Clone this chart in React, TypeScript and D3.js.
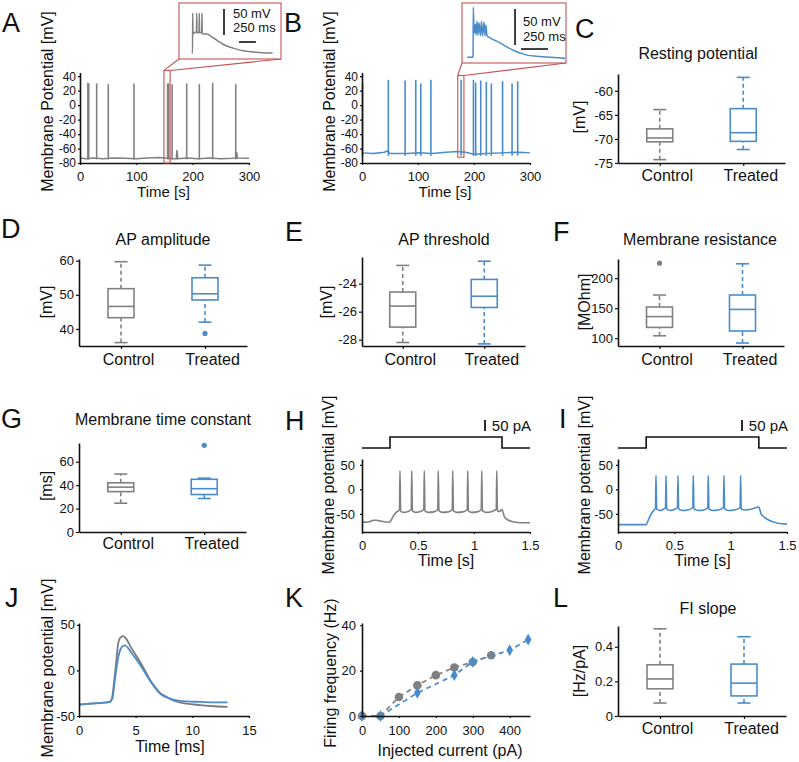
import { useEffect, useRef } from "react";
import * as d3 from "d3";

type Pt = [number, number];
type Sel = d3.Selection<SVGGElement, unknown, null, undefined>;

const FONT = "'Liberation Sans', Arial, Helvetica, sans-serif";
const INK = "#111111";
const GRAY = "#808080";
const BLUE = "#4a8ccb";
const RED = "#c45252";

// ---------- A / B : long recordings (time s, Vm mV)
const baselineA: Pt[] = [
  [0, -73], [10, -74], [25, -73], [40, -74], [60, -73], [80, -73.5], [100, -74], [120, -73],
  [140, -72.5], [150, -73], [165, -74], [171, -74], [172, -62], [173.5, -74], [190, -73],
  [210, -74], [230, -73], [250, -74], [270, -73.5], [277, -73], [278, -65], [279.5, -73], [300, -73.5],
];
const spikesA: Pt[] = [
  [14, 31], [15.5, 30], [29.6, 30], [50.2, 29], [95.9, 30], [155.5, 30], [157.5, 30],
  [163.5, 29], [189.4, 30], [211.8, 29], [235.5, 31], [276.4, 29],
];
const windowA = [149, 160, -80, 48];
// inset: ms from start, mV above rest
const insetA: Pt[] = [
  [0, 0], [12, 0], [15, 77], [19, 38], [50, 40], [70, 41], [74, 77], [78, 39], [108, 41],
  [112, 77], [116, 39], [147, 41], [151, 77], [155, 37], [225, 37], [300, 31], [372, 25],
  [480, 16], [607, 10], [750, 5], [901, 2.5], [1050, 1], [1190, 0.5],
];

const baselineB: Pt[] = [
  [0, -66], [20, -67], [40, -65], [46, -63], [50, -67], [80, -67], [100, -66], [125, -67],
  [150, -65], [170, -64], [185, -65], [200, -68], [220, -67], [250, -66], [280, -65], [300, -66],
];
const spikesB: Pt[] = [
  [1, 30], [47, 35], [77, 34], [96, 35], [105, 30], [123, 35], [177, 35], [199, 35],
  [203, 31], [212, 34], [222, 32], [231, 30], [251, 33], [268, 30], [278, 33],
];
const windowB = [171, 182, -72, 41];
const insetB: Pt[] = [
  [0, 0], [50, 0], [53, 2], [56, 69.5], [62, 36], [67, 34], [74, 46], [81, 31], [90, 50],
  [99, 31], [108, 48], [122, 30], [131, 50], [141, 30], [155, 49], [164, 30], [173, 45],
  [182, 30], [210, 27], [250, 24], [303, 20], [360, 15], [423, 10], [490, 6], [553, 3],
  [640, 1.5], [738, 0.5], [905, -1.5],
];

const recTicksX = [0, 100, 200, 300];
const recTicksY = [-80, -60, -40, -20, 0, 20, 40];

// ---------- box plots: [lower whisker, Q1, median, Q3, upper whisker]
const groups = ["Control", "Treated"];
const restingStats = [[-74.3, -70.6, -69.8, -67.9, -63.9], [-72.2, -70.5, -68.7, -63.7, -57.2]];
const restingOut: number[][] = [[], []];
const restingTicks = [-75, -70, -65, -60];

const ampStats = [[36, 43.3, 46.6, 51.8, 59.7], [42, 48.5, 50.3, 55, 58.7]];
const ampOut = [[], [38.7]];
const ampTicks = [40, 50, 60];

const thrStats = [[-28.2, -27.1, -25.6, -24.6, -22.7], [-28.3, -25.7, -24.9, -23.7, -22.4]];
const thrOut: number[][] = [[], []];
const thrTicks = [-28, -26, -24];

const resStats = [[104, 118, 136, 152, 172], [92, 112, 148, 172, 224]];
const resOut = [[225], []];
const resTicks = [100, 150, 200];

const tauStats = [[24.6, 34.5, 38.3, 42, 49.5], [28.6, 32, 37, 45, 46]];
const tauOut = [[], [74]];
const tauTicks = [0, 20, 40, 60];

const slopeStats = [[0.075, 0.157, 0.214, 0.296, 0.504], [0.075, 0.116, 0.19, 0.3, 0.458]];
const slopeOut: number[][] = [[], []];
const slopeTicks = [0, 0.2, 0.4];

// ---------- H / I : 50 pA step (time s, Vm mV)
const stimT = [0, 0.25, 0.25, 1.25, 1.25, 1.5];
const stimPA = [0, 0, 50, 50, 0, 0];
const traceH: Pt[] = [
  [0, -66], [0.04, -67], [0.08, -65], [0.1, -63], [0.13, -63], [0.17, -65], [0.24, -67],
  [0.26, -63], [0.28, -54], [0.31, -46], [0.335, -42],
  [0.339, 38], [0.345, -44], [0.37, -47], [0.41, -45], [0.44, -41],
  [0.444, 38], [0.45, -44], [0.48, -47], [0.52, -45], [0.552, -41],
  [0.556, 38], [0.562, -44], [0.59, -47], [0.64, -46], [0.677, -41],
  [0.681, 38], [0.687, -44], [0.72, -47], [0.77, -46], [0.806, -41],
  [0.81, 38], [0.816, -44], [0.85, -47], [0.9, -46], [0.94, -41],
  [0.944, 38], [0.95, -44], [0.98, -47], [1.03, -46], [1.065, -41],
  [1.069, 38], [1.075, -44], [1.11, -47], [1.16, -45], [1.199, -41],
  [1.203, 38], [1.209, -44], [1.23, -45], [1.25, -41],
  [1.27, -55], [1.3, -62], [1.35, -66], [1.42, -68], [1.5, -68],
];
const traceI: Pt[] = [
  [0, -72], [0.1, -72], [0.2, -72], [0.25, -72],
  [0.27, -62], [0.29, -52], [0.31, -45], [0.333, -38],
  [0.337, 28], [0.343, -40], [0.37, -43], [0.4, -41], [0.422, -37],
  [0.426, 28], [0.432, -40], [0.46, -43], [0.5, -41], [0.528, -37],
  [0.532, 28], [0.538, -40], [0.57, -43], [0.62, -42], [0.664, -37],
  [0.668, 28], [0.674, -40], [0.71, -43], [0.76, -42], [0.797, -37],
  [0.801, 28], [0.807, -40], [0.84, -43], [0.89, -42], [0.936, -37],
  [0.94, 28], [0.946, -40], [0.98, -43], [1.03, -42], [1.084, -37],
  [1.088, 28], [1.094, -40], [1.13, -42], [1.19, -40], [1.25, -36],
  [1.27, -50], [1.3, -57], [1.35, -64], [1.42, -69], [1.5, -71],
];
const stepTicksX = [0, 0.5, 1, 1.5];
const stepTicksY = [-50, 0, 50];

// ---------- J : mean AP waveform (ms, mV)
const apControl: Pt[] = [
  [0, -37.5], [1, -36.5], [2, -35.5], [2.7, -34.5], [2.9, -31], [3.1, -12], [3.3, 11], [3.45, 29],
  [3.65, 36], [3.9, 37.5], [4.2, 34], [4.6, 25], [5, 17], [5.4, 9], [5.9, -2], [6.3, -11],
  [6.7, -18], [7.1, -24], [7.7, -29], [8.3, -33], [9.5, -36.5], [10.7, -38], [12, -39.3], [13.1, -40],
];
const apTreated: Pt[] = [
  [0, -37.5], [1, -36.5], [2, -35.5], [2.7, -34.5], [2.95, -31], [3.15, -12], [3.35, 6], [3.55, 19],
  [3.8, 26], [4.05, 27.5], [4.3, 25], [4.7, 18], [5, 13], [5.4, 6], [5.9, -4], [6.3, -12],
  [6.7, -19], [7.1, -25], [7.7, -29.5], [8.3, -32], [9.5, -34], [10.7, -34.5], [12, -35], [13.1, -35],
];
const apTicksX = [0, 5, 10, 15];
const apTicksY = [-50, 0, 50];

// ---------- K : FI curve
const fiCurrentControl = [0, 50, 100, 150, 200, 250, 300, 350];
const fiRateControl = [0, 0, 8.4, 13.5, 18, 21.4, 23.8, 26.8];
const fiCurrentTreated = [0, 50, 150, 250, 300, 400, 450];
const fiRateTreated = [0, 0, 10.2, 18, 23.9, 29, 33.7];
const fiTicksX = [0, 100, 200, 300, 400];
const fiTicksY = [0, 20, 40];

const letters: [string, number, number][] = [
  ["A", 2, 32], ["B", 284, 32], ["C", 575, 38], ["D", 1, 238], ["E", 285, 241], ["F", 553, 241],
  ["G", 1, 428], ["H", 285, 430], ["I", 559, 428], ["J", 5, 607], ["K", 285, 607], ["L", 553, 607],
];

function styleAxis(g: Sel, fs: number) {
  g.attr("font-family", FONT).attr("font-size", fs);
  g.select(".domain").attr("stroke", INK).attr("stroke-width", 1.6);
  g.selectAll(".tick line").attr("stroke", INK).attr("stroke-width", 1.2);
  g.selectAll(".tick text").attr("fill", INK);
}

function leftAxis(root: Sel, scale: any, x: number, ticks: number[], size: number, pad: number, fs = 13) {
  const g = root.append("g").attr("transform", `translate(${x},0)`);
  g.call(
    d3.axisLeft(scale).tickValues(ticks).tickFormat((d: any) => String(d))
      .tickSizeOuter(0).tickSizeInner(size).tickPadding(pad)
  );
  styleAxis(g, fs);
  return g;
}

function bottomAxis(root: Sel, scale: any, y: number, ticks: any[] | null, size: number, pad: number, fs = 13) {
  const g = root.append("g").attr("transform", `translate(0,${y})`);
  const ax = d3.axisBottom(scale).tickSizeOuter(0).tickSizeInner(size).tickPadding(pad);
  if (ticks) ax.tickValues(ticks).tickFormat((d: any) => String(d));
  g.call(ax);
  styleAxis(g, fs);
  return g;
}

function text(root: Sel, x: number, y: number, s: string, fs: number, anchor = "middle", rotate = false) {
  const t = root.append("text").attr("font-family", FONT).attr("font-size", fs)
    .attr("fill", INK).attr("text-anchor", anchor).text(s);
  if (rotate) t.attr("transform", `translate(${x},${y}) rotate(-90)`).attr("dy", "0.32em");
  else t.attr("x", x).attr("y", y);
}

function recording(root: Sel, o: any) {
  const x = d3.scaleLinear().domain([0, 300]).range([o.left, o.right]);
  const y = d3.scaleLinear().domain([-80, 45]).range([163, 72.6]);
  const line = d3.line<Pt>().x((d) => x(d[0])).y((d) => y(d[1]));
  root.append("path").datum(o.baseline).attr("d", line).attr("fill", "none")
    .attr("stroke", o.color).attr("stroke-width", 1.5);
  root.append("g").selectAll("line").data(o.spikes as Pt[]).join("line")
    .attr("x1", (d) => x(d[0])).attr("x2", (d) => x(d[0]))
    .attr("y1", y(o.foot)).attr("y2", (d) => y(d[1]))
    .attr("stroke", o.color).attr("stroke-width", 1.6);
  leftAxis(root, y, o.left, recTicksY, 2, 2, 12);
  bottomAxis(root, x, 163, recTicksX, 2, 7, 13);
  text(root, (o.left + o.right) / 2 - 1, 197, "Time [s]", 15);
  text(root, o.left - 32.5, 101.5, "Membrane Potential [mV]", 16, "middle", true);

  // zoom window + connectors + inset box
  const [t0, t1, v0, v1] = o.win;
  const [bl, bt, br, bb] = o.box;
  root.append("rect").attr("x", x(t0)).attr("y", y(v1)).attr("width", x(t1) - x(t0))
    .attr("height", y(v0) - y(v1)).attr("fill", "none").attr("stroke", RED).attr("stroke-width", 1.1);
  root.append("line").attr("x1", x(t0)).attr("y1", y(v1)).attr("x2", bl).attr("y2", bb)
    .attr("stroke", RED).attr("stroke-width", 1.1);
  root.append("line").attr("x1", x(t1)).attr("y1", y(v1)).attr("x2", br).attr("y2", bb)
    .attr("stroke", RED).attr("stroke-width", 1.1);
  root.append("rect").attr("x", bl).attr("y", bt).attr("width", br - bl).attr("height", bb - bt)
    .attr("fill", "white").attr("stroke", RED).attr("stroke-width", 1.1);

  const xi = d3.scaleLinear().domain([0, 250]).range([o.ox, o.ox + o.msW]);
  const yi = d3.scaleLinear().domain([0, 50]).range([o.oy, o.oy - o.mvH]);
  root.append("path").datum(o.inset)
    .attr("d", d3.line<Pt>().x((d) => xi(d[0])).y((d) => yi(d[1])).curve(d3.curveMonotoneX))
    .attr("fill", "none").attr("stroke", o.color).attr("stroke-width", 1.5);
  root.append("line").attr("x1", xi(o.vbar[0])).attr("x2", xi(o.vbar[0]))
    .attr("y1", yi(o.vbar[1])).attr("y2", yi(o.vbar[2])).attr("stroke", INK).attr("stroke-width", 1.6);
  root.append("line").attr("x1", xi(o.hbar[1])).attr("x2", xi(o.hbar[2]))
    .attr("y1", yi(o.hbar[0])).attr("y2", yi(o.hbar[0])).attr("stroke", INK).attr("stroke-width", 1.6);
  text(root, o.txtX, o.txt1, "50 mV", 13, "start");
  text(root, o.txtX, o.txt2, "250 ms", 13, "start");
}

function boxPanel(root: Sel, o: any) {
  const y = d3.scaleLinear().domain(o.domain).range([o.yb, o.yt]);
  const x = d3.scalePoint<string>().domain(groups).range([o.x0, o.x1]).padding(0.5);
  const colors = [GRAY, BLUE];
  groups.forEach((c, i) => {
    const s = o.stats[i];
    const cx = x(c) as number;
    const g = root.append("g").attr("stroke", colors[i]).attr("stroke-width", 1.6).attr("fill", "none");
    g.append("line").attr("x1", cx).attr("x2", cx).attr("y1", y(s[0])).attr("y2", y(s[1]))
      .attr("stroke-dasharray", "4,3");
    g.append("line").attr("x1", cx).attr("x2", cx).attr("y1", y(s[3])).attr("y2", y(s[4]))
      .attr("stroke-dasharray", "4,3");
    [s[0], s[4]].forEach((v: number) =>
      g.append("line").attr("x1", cx - 6.5).attr("x2", cx + 6.5).attr("y1", y(v)).attr("y2", y(v))
    );
    g.append("rect").attr("x", cx - 13).attr("y", y(s[3])).attr("width", 26)
      .attr("height", y(s[1]) - y(s[3])).attr("fill", "white");
    g.append("line").attr("x1", cx - 13).attr("x2", cx + 13).attr("y1", y(s[2])).attr("y2", y(s[2]));
    o.out[i].forEach((v: number) =>
      root.append("circle").attr("cx", cx).attr("cy", y(v)).attr("r", 2.6).attr("fill", colors[i])
    );
  });
  leftAxis(root, y, o.x0, o.ticks, 3, 2, 13);
  const gx = bottomAxis(root, x, o.yb, null, 3, 0, 16);
  gx.selectAll(".tick text").attr("dy", null).attr("y", o.catY - o.yb).attr("dx", 7);
  text(root, o.tx, o.ty, o.title, 16);
  text(root, o.lx, o.ly, o.ylab, 16, "middle", true);
}

function stepPanel(root: Sel, o: any) {
  const x = d3.scaleLinear().domain([0, 1.5]).range([o.left, o.right]);
  const y = d3.scaleLinear().domain([-87, 62]).range([532, 459]);
  const ys = d3.scaleLinear().domain([0, 50]).range([448, 437]);
  const stim = stimT.map((t, i) => [t, stimPA[i]] as Pt);
  root.append("path").datum(stim)
    .attr("d", d3.line<Pt>().x((d) => x(d[0])).y((d) => ys(d[1])))
    .attr("fill", "none").attr("stroke", INK).attr("stroke-width", 1.6);
  root.append("path").datum(o.trace)
    .attr("d", d3.line<Pt>().x((d) => x(d[0])).y((d) => y(d[1])).curve(d3.curveMonotoneX))
    .attr("fill", "none").attr("stroke", o.color).attr("stroke-width", 1.6);
  // 50 pA scale bar
  root.append("line").attr("x1", o.barX).attr("x2", o.barX).attr("y1", 431)
    .attr("y2", 431 - (ys(0) - ys(50))).attr("stroke", INK).attr("stroke-width", 1.8);
  text(root, o.right + 1, 431, "50 pA", 15, "end");
  leftAxis(root, y, o.left, stepTicksY, 2, o.ypad, 13);
  bottomAxis(root, x, 532, stepTicksX, 2, 7, 13);
  text(root, (o.left + o.right) / 2, 566, "Time [s]", 16);
  text(root, o.left - 33.5, 485, "Membrane potential [mV]", 16, "middle", true);
}

function drawFigure(svgEl: SVGSVGElement) {
  const svg = d3.select(svgEl);
  svg.selectAll("*").remove();
  const root = svg.append("g") as unknown as Sel;
  root.append("rect").attr("width", 799).attr("height", 762).attr("fill", "white");

  recording(root, {
    left: 80, right: 249, color: GRAY, baseline: baselineA, spikes: spikesA, foot: -75,
    win: windowA, box: [179, 3, 281, 59], inset: insetA, ox: 191.7, oy: 53.3, msW: 17, mvH: 26,
    vbar: [475, 35, 85], hbar: [21.7, 695, 945], txtX: 233, txt1: 18, txt2: 32,
  });
  recording(root, {
    left: 362, right: 530, color: BLUE, baseline: baselineB, spikes: spikesB, foot: -70,
    win: windowB, box: [462, 3, 566, 63], inset: insetB, ox: 467.3, oy: 57.3, msW: 27, mvH: 36,
    vbar: [442, 17, 67], hbar: [11.5, 497, 747], txtX: 523, txt1: 26, txt2: 41,
  });

  boxPanel(root, {
    x0: 618, x1: 785, yb: 163, yt: 74, domain: [-75, -56.5], ticks: restingTicks,
    stats: restingStats, out: restingOut, title: "Resting potential", tx: 698, ty: 59,
    ylab: "[mV]", lx: 580, ly: 117, catY: 181,
  });
  boxPanel(root, {
    x0: 79, x1: 247, yb: 346, yt: 259, domain: [35, 60.5], ticks: ampTicks,
    stats: ampStats, out: ampOut, title: "AP amplitude", tx: 163, ty: 245,
    ylab: "[mV]", lx: 47, ly: 302, catY: 365,
  });
  boxPanel(root, {
    x0: 362, x1: 525, yb: 346, yt: 257, domain: [-28.45, -22.1], ticks: thrTicks,
    stats: thrStats, out: thrOut, title: "AP threshold", tx: 444, ty: 245,
    ylab: "[mV]", lx: 327, ly: 302, catY: 365,
  });
  boxPanel(root, {
    x0: 618, x1: 784, yb: 346, yt: 259, domain: [87, 232], ticks: resTicks,
    stats: resStats, out: resOut, title: "Membrane resistance", tx: 700, ty: 245,
    ylab: "[MOhm]", lx: 585, ly: 302, catY: 365,
  });
  boxPanel(root, {
    x0: 79, x1: 246, yb: 532, yt: 443, domain: [0, 76], ticks: tauTicks,
    stats: tauStats, out: tauOut, title: "Membrane time constant", tx: 163, ty: 425,
    ylab: "[ms]", lx: 47, ly: 486, catY: 549,
  });
  boxPanel(root, {
    x0: 618, x1: 786, yb: 716, yt: 626, domain: [0, 0.52], ticks: slopeTicks,
    stats: slopeStats, out: slopeOut, title: "FI slope", tx: 708, ty: 614,
    ylab: "[Hz/pA]", lx: 580, ly: 671, catY: 734,
  });

  stepPanel(root, { left: 362, right: 530, color: GRAY, trace: traceH, barX: 485, ypad: 5 });
  stepPanel(root, { left: 618, right: 787, color: BLUE, trace: traceI, barX: 742, ypad: 3 });

  // J
  {
    const x = d3.scaleLinear().domain([0, 15]).range([79, 249]);
    const y = d3.scaleLinear().domain([-50, 52]).range([716, 623]);
    const line = d3.line<Pt>().x((d) => x(d[0])).y((d) => y(d[1])).curve(d3.curveMonotoneX);
    root.append("path").datum(apControl).attr("d", line).attr("fill", "none")
      .attr("stroke", "#7a7a7a").attr("stroke-width", 1.8);
    root.append("path").datum(apTreated).attr("d", line).attr("fill", "none")
      .attr("stroke", BLUE).attr("stroke-width", 1.8);
    leftAxis(root, y, 79, apTicksY, 2, 2, 13);
    bottomAxis(root, x, 716, apTicksX, 2, 8, 13);
    text(root, 170, 752, "Time [ms]", 16);
    text(root, 47.5, 668, "Membrane potential [mV]", 16, "middle", true);
  }

  // K
  {
    const x = d3.scaleLinear().domain([0, 455]).range([362, 530]);
    const y = d3.scaleLinear().domain([0, 41]).range([716, 623]);
    const ctl = fiCurrentControl.map((c, i) => [c, fiRateControl[i]] as Pt);
    const trt = fiCurrentTreated.map((c, i) => [c, fiRateTreated[i]] as Pt);
    const line = d3.line<Pt>().x((d) => x(d[0])).y((d) => y(d[1]));
    root.append("path").datum(ctl).attr("d", line).attr("fill", "none")
      .attr("stroke", GRAY).attr("stroke-width", 1.7).attr("stroke-dasharray", "5,4");
    root.append("g").selectAll("circle").data(ctl).join("circle")
      .attr("cx", (d) => x(d[0])).attr("cy", (d) => y(d[1])).attr("r", 4.3).attr("fill", GRAY);
    root.append("path").datum(trt).attr("d", line).attr("fill", "none")
      .attr("stroke", BLUE).attr("stroke-width", 1.7).attr("stroke-dasharray", "5,4");
    const diamond = d3.symbol().type(d3.symbolDiamond).size(40);
    root.append("g").selectAll("path").data(trt).join("path")
      .attr("transform", (d) => `translate(${x(d[0])},${y(d[1])})`)
      .attr("d", diamond()).attr("fill", BLUE);
    leftAxis(root, y, 362, fiTicksY, 2, 4, 13);
    bottomAxis(root, x, 716, fiTicksX, 2, 8, 13);
    text(root, 450, 756, "Injected current (pA)", 16);
    text(root, 330.5, 673, "Firing frequency (Hz)", 16, "middle", true);
  }

  letters.forEach(([s, lx, ly]) => text(root, lx, ly, s, 27, "start"));
}

export default function App() {
  const ref = useRef<SVGSVGElement>(null);
  useEffect(() => {
    if (ref.current) drawFigure(ref.current);
  }, []);
  return (
    <svg
      ref={ref}
      width={799}
      height={762}
      style={{ position: "absolute", left: 0, top: 0, background: "white" }}
    />
  );
}
